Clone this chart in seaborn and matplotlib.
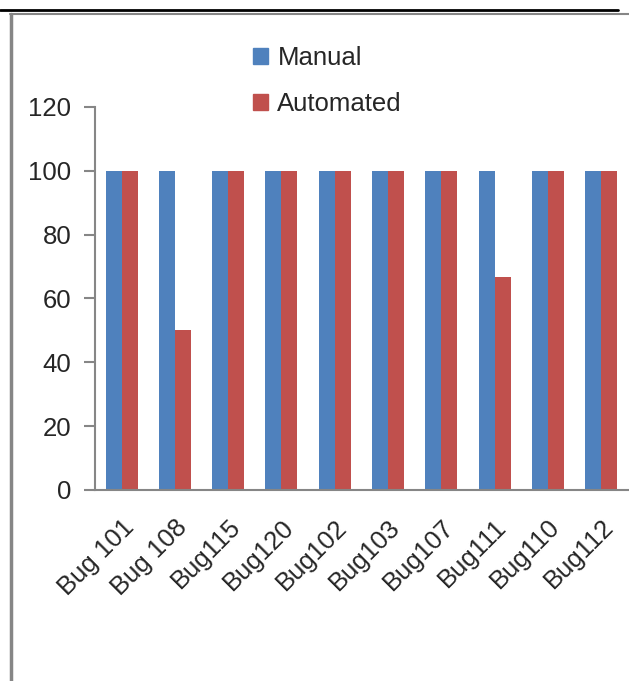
import matplotlib.pyplot as plt
import matplotlib.lines as mlines
import pandas as pd
import seaborn as sns

# chart data
bugs = ["Bug 101", "Bug 108", "Bug115", "Bug120", "Bug102",
        "Bug103", "Bug107", "Bug111", "Bug110", "Bug112"]
manual = [100, 100, 100, 100, 100, 100, 100, 100, 100, 100]
automated = [100, 50, 100, 100, 100, 100, 100, 66.67, 100, 100]
yticks = [0, 20, 40, 60, 80, 100, 120]

df = pd.DataFrame({"bug": bugs * 2,
                   "value": manual + automated,
                   "type": ["Manual"] * len(bugs) + ["Automated"] * len(bugs)})

sns.set_style("white")
plt.rcParams['font.family'] = ['Liberation Sans Narrow', 'Liberation Sans', 'DejaVu Sans']
fs = 18.5
grey = "#868686"

fig = plt.figure(figsize=(6.29, 6.81), dpi=100)
ax = fig.add_axes([0.151, 0.2805, 0.847, 0.5624])

sns.barplot(data=df, x="bug", y="value", hue="type", order=bugs,
            palette={"Manual": "#4F81BD", "Automated": "#C0504D"},
            width=0.6, saturation=1, linewidth=0, ax=ax, legend=False)

ax.set_xlim(-0.5, len(bugs) - 0.5)
ax.set_ylim(0, 120)
ax.set_yticks(yticks)
ax.set_xlabel("")
ax.set_ylabel("")

for s in ["top", "right"]:
    ax.spines[s].set_visible(False)
for s in ["left", "bottom"]:
    ax.spines[s].set_color(grey)
    ax.spines[s].set_linewidth(1.5)

# group boundary ticks on x, labels at the centers
ax.set_xticks([i - 0.5 for i in range(len(bugs) + 1)], minor=True)
ax.tick_params(axis="x", which="minor", length=8, width=1.5, color=grey, direction="out")
ax.tick_params(axis="x", which="major", length=0, pad=18, labelsize=fs)
ax.tick_params(axis="y", length=8, width=1.5, color=grey, direction="out",
               left=True, pad=9, labelsize=fs)
plt.setp(ax.get_xticklabels(), rotation=45, ha="right", rotation_mode="anchor")

# legend
handles = [plt.Rectangle((0, 0), 1, 1, color="#4F81BD"),
           plt.Rectangle((0, 0), 1, 1, color="#C0504D")]
fig.legend(handles, ["Manual", "Automated"], loc="upper left",
           bbox_to_anchor=(253 / 629, 1 - 46 / 681), frameon=False,
           fontsize=fs, handlelength=0.6, handleheight=0.6, handletextpad=0.35,
           labelspacing=0.85, borderpad=0, borderaxespad=0)

# page frame lines
fig.add_artist(mlines.Line2D([0, 618 / 629], [1 - 10 / 681] * 2, color="black", lw=2))
fig.add_artist(mlines.Line2D([10 / 629, 1], [1 - 14 / 681] * 2, color=grey, lw=1.5))
fig.add_artist(mlines.Line2D([11 / 629] * 2, [0, 1 - 14 / 681], color=grey, lw=2.5))

plt.savefig("out.png", dpi=100)
plt.close(fig)
